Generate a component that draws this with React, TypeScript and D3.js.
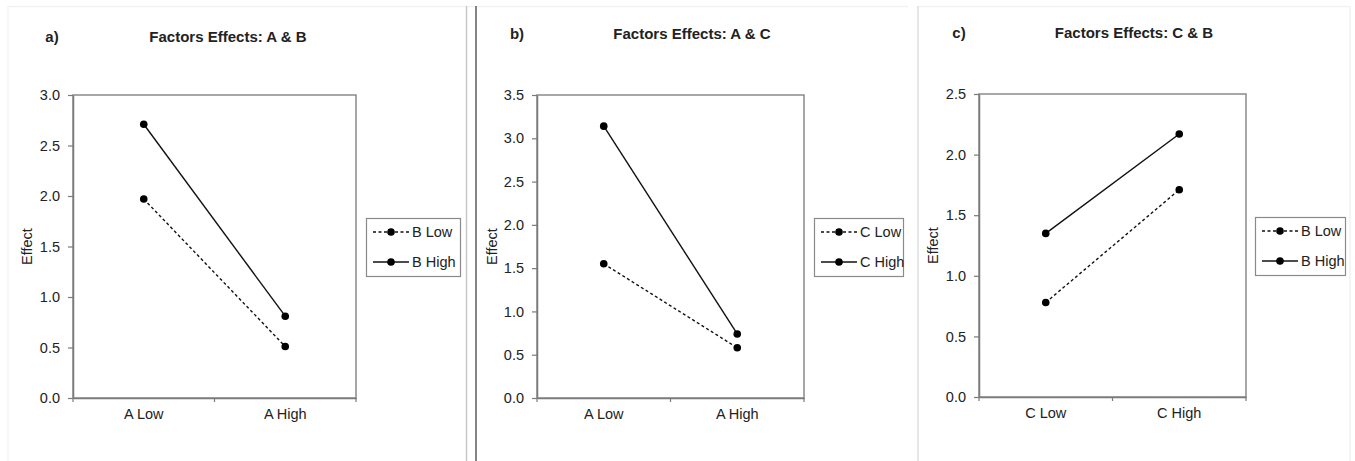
import React, { useEffect, useRef } from "react";
import * as d3 from "d3";

// chart values
const panelTags = ["a)", "b)", "c)"];
const panelTitles = [
  "Factors Effects: A & B",
  "Factors Effects: A & C",
  "Factors Effects: C & B",
];
const xCategories = [
  ["A Low", "A High"],
  ["A Low", "A High"],
  ["C Low", "C High"],
];
const seriesNames = [
  ["B Low", "B High"],
  ["C Low", "C High"],
  ["B Low", "B High"],
];
const lowSeries = [
  [1.97, 0.51],
  [1.55, 0.58],
  [0.78, 1.71],
];
const highSeries = [
  [2.71, 0.81],
  [3.14, 0.74],
  [1.35, 2.17],
];
const yMaxes = [3.0, 3.5, 2.5];
const yTickStep = 0.5;

// layout of each panel (pixels)
const layout = [
  { left: 73, right: 356, top: 95, bottom: 398, tagX: 52, titleX: 228, titleY: 42, effX: 27, lgX: 366, lgY: 218, lgW: 94 },
  { left: 537, right: 804, top: 95, bottom: 398, tagX: 517, titleX: 692, titleY: 39, effX: 492, lgX: 814, lgY: 218, lgW: 89 },
  { left: 979, right: 1246, top: 94, bottom: 397, tagX: 959, titleX: 1134, titleY: 38, effX: 933, lgX: 1255, lgY: 217, lgW: 90 },
];

const W = 1355;
const H = 461;
const FONT = "'Liberation Sans', Arial, sans-serif";
const TEXT = "#222";
const AXIS = "#7a7a7a";

export default function App() {
  const ref = useRef<SVGSVGElement>(null);

  useEffect(() => {
    const svg = d3.select(ref.current);
    svg.selectAll("*").remove();

    // panel frames / separators
    svg.append("rect").attr("width", W).attr("height", H).attr("fill", "#fff");
    svg.append("line").attr("x1", 8).attr("x2", 908).attr("y1", 6.5).attr("y2", 6.5).attr("stroke", "#f2f2f2").attr("stroke-width", 1.5);
    svg.append("line").attr("x1", 918).attr("x2", 1350).attr("y1", 6.5).attr("y2", 6.5).attr("stroke", "#f2f2f2").attr("stroke-width", 1.5);
    svg.append("line").attr("x1", 8).attr("x2", 8).attr("y1", 6).attr("y2", H).attr("stroke", "#f4f4f4").attr("stroke-width", 1.5);
    svg.append("line").attr("x1", 918).attr("x2", 918).attr("y1", 6).attr("y2", H).attr("stroke", "#e6e6e6").attr("stroke-width", 2);
    svg.append("line").attr("x1", 1350).attr("x2", 1350).attr("y1", 6).attr("y2", H).attr("stroke", "#f2f2f2").attr("stroke-width", 1.5);
    svg.append("line").attr("x1", 466.5).attr("x2", 466.5).attr("y1", 6).attr("y2", H).attr("stroke", "#c8c8c8").attr("stroke-width", 1.5);
    svg.append("line").attr("x1", 476).attr("x2", 476).attr("y1", 6).attr("y2", H).attr("stroke", "#858585").attr("stroke-width", 2);

    layout.forEach((L, i) => {
      const g = svg.append("g");
      const width = L.right - L.left;
      const height = L.bottom - L.top;

      const x = d3.scaleBand().domain(xCategories[i]).range([L.left, L.right]);
      const y = d3.scaleLinear().domain([0, yMaxes[i]]).range([L.bottom, L.top]);
      const ticks = d3.range(0, yMaxes[i] + 1e-6, yTickStep);

      // titles
      g.append("text")
        .attr("x", L.tagX).attr("y", L.titleY)
        .attr("text-anchor", "middle")
        .attr("font-family", FONT).attr("font-weight", "bold").attr("font-size", 15)
        .attr("fill", TEXT)
        .text(panelTags[i]);
      g.append("text")
        .attr("x", L.titleX).attr("y", L.titleY)
        .attr("text-anchor", "middle")
        .attr("font-family", FONT).attr("font-weight", "bold").attr("font-size", 15)
        .attr("fill", TEXT)
        .text(panelTitles[i]);

      // plot frame
      g.append("rect")
        .attr("x", L.left).attr("y", L.top)
        .attr("width", width).attr("height", height)
        .attr("fill", "none").attr("stroke", "#8a8a8a").attr("stroke-width", 1.5);

      // y axis
      const yAxis = g.append("g")
        .attr("transform", `translate(${L.left},0)`)
        .call(d3.axisLeft(y).tickValues(ticks).tickFormat(d3.format(".1f")).tickSize(5).tickPadding(8).tickSizeOuter(0));
      yAxis.select(".domain").attr("stroke", AXIS).attr("stroke-width", 1.5);
      yAxis.selectAll(".tick line").attr("stroke", AXIS).attr("stroke-width", 1.2);
      yAxis.selectAll("text").attr("font-family", FONT).attr("font-size", 14.5).attr("fill", TEXT);

      // x axis labels + boundary ticks
      const xAxis = g.append("g")
        .attr("transform", `translate(0,${L.bottom})`)
        .call(d3.axisBottom(x).tickSize(0).tickPadding(11));
      xAxis.select(".domain").attr("stroke", AXIS).attr("stroke-width", 1.5);
      xAxis.selectAll("text").attr("font-family", FONT).attr("font-size", 14.5).attr("fill", TEXT);
      const bounds = xCategories[i].map((c) => x(c) as number).concat([L.right]);
      g.selectAll(".xb")
        .data(bounds)
        .join("line")
        .attr("x1", (d) => d).attr("x2", (d) => d)
        .attr("y1", L.bottom).attr("y2", L.bottom + 4)
        .attr("stroke", AXIS).attr("stroke-width", 1.2);

      // y title
      g.append("text")
        .attr("transform", `translate(${L.effX},${(L.top + L.bottom) / 2}) rotate(-90)`)
        .attr("dy", "0.35em")
        .attr("text-anchor", "middle")
        .attr("font-family", FONT).attr("font-size", 14.5).attr("fill", TEXT)
        .text("Effect");

      // series lines
      const cx = (c: string) => (x(c) as number) + x.bandwidth() / 2;
      const series = [
        { name: seriesNames[i][0], values: lowSeries[i], dash: "3,2.5" },
        { name: seriesNames[i][1], values: highSeries[i], dash: null },
      ];
      const line = d3.line<number>()
        .x((_, j) => cx(xCategories[i][j]))
        .y((d) => y(d));

      series.forEach((s) => {
        g.append("path")
          .attr("d", line(s.values))
          .attr("fill", "none")
          .attr("stroke", "#111")
          .attr("stroke-width", 1.4)
          .attr("stroke-dasharray", s.dash);
        g.selectAll(null)
          .data(s.values)
          .join("circle")
          .attr("cx", (_, j) => cx(xCategories[i][j]))
          .attr("cy", (d) => y(d))
          .attr("r", 3.8)
          .attr("fill", "#000");
      });

      // legend
      const lg = g.append("g").attr("transform", `translate(${L.lgX},${L.lgY})`);
      lg.append("rect")
        .attr("x", 0.5).attr("y", 0.5)
        .attr("width", L.lgW).attr("height", 58)
        .attr("fill", "#fff").attr("stroke", "#8a8a8a").attr("stroke-width", 1.2);
      series.forEach((s, k) => {
        const ry = 14 + k * 30;
        lg.append("line")
          .attr("x1", 7).attr("x2", 43).attr("y1", ry).attr("y2", ry)
          .attr("stroke", "#111").attr("stroke-width", 1.4)
          .attr("stroke-dasharray", s.dash);
        lg.append("circle").attr("cx", 25).attr("cy", ry).attr("r", 3.8).attr("fill", "#000");
        lg.append("text")
          .attr("x", 46).attr("y", ry).attr("dy", "0.35em")
          .attr("font-family", FONT).attr("font-size", 14.5).attr("fill", TEXT)
          .text(s.name);
      });
    });
  }, []);

  return (
    <svg
      ref={ref}
      width={W}
      height={H}
      style={{ position: "absolute", left: 0, top: 0 }}
    />
  );
}
